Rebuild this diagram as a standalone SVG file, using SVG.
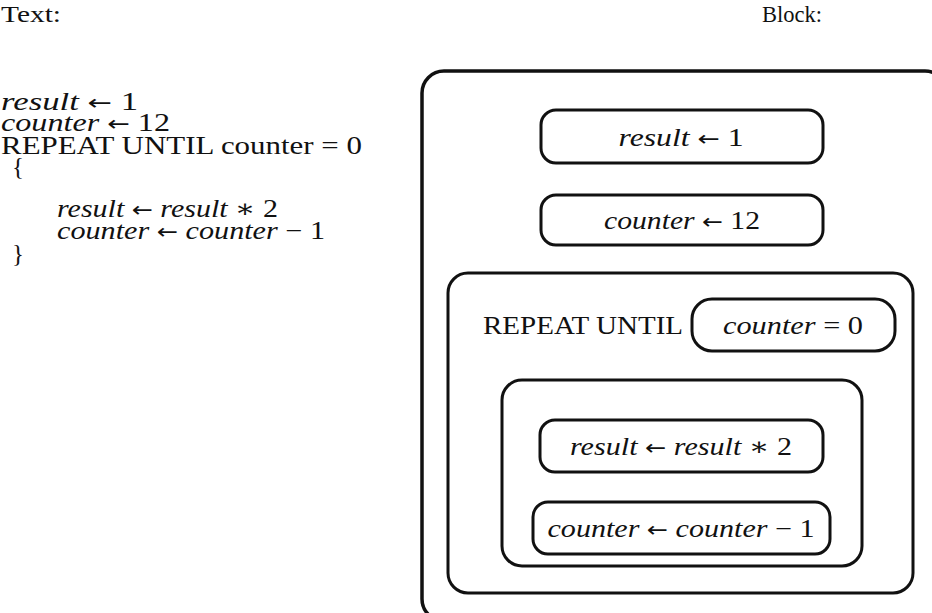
<svg xmlns="http://www.w3.org/2000/svg" width="932" height="613" viewBox="0 0 932 613">
<style>
text{font-family:"Liberation Serif","DejaVu Serif",serif;font-size:25px;fill:#111}
.i{font-style:italic}
.a{font-family:"DejaVu Sans",sans-serif;font-size:21px}
.h{font-size:24px}
.box{fill:none;stroke:#111;stroke-width:3}
.outer{fill:none;stroke:#111;stroke-width:3.5}
.c{text-anchor:middle}
</style>
<rect width="932" height="613" fill="#fff"/>
<g id="text-listing">
<text class="h" x="1" y="22" textLength="60" lengthAdjust="spacingAndGlyphs">Text:</text>
<text x="1" y="110" textLength="137" lengthAdjust="spacingAndGlyphs"><tspan class="i">result</tspan> <tspan class="a">←</tspan> 1</text>
<text x="1" y="131" textLength="169" lengthAdjust="spacingAndGlyphs"><tspan class="i">counter</tspan> <tspan class="a">←</tspan> 12</text>
<text x="1" y="154" textLength="361" lengthAdjust="spacingAndGlyphs">REPEAT UNTIL counter = 0</text>
<text x="12" y="175">{</text>
<text x="57" y="217" textLength="221" lengthAdjust="spacingAndGlyphs"><tspan class="i">result</tspan> <tspan class="a">←</tspan> <tspan class="i">result</tspan> ∗ 2</text>
<text x="57" y="239" textLength="268" lengthAdjust="spacingAndGlyphs"><tspan class="i">counter</tspan> <tspan class="a">←</tspan> <tspan class="i">counter</tspan> − 1</text>
<text x="12" y="262">}</text>
</g>
<text class="h" x="762" y="22" textLength="60" lengthAdjust="spacingAndGlyphs">Block:</text>
<g id="program">
<rect class="outer" x="422" y="71" width="525" height="550" rx="22"/>
</g>
<g id="stmt1">
<rect class="box" x="541" y="110" width="282" height="53" rx="15"/>
<text class="c" x="681" y="146" textLength="125" lengthAdjust="spacingAndGlyphs"><tspan class="i">result</tspan> <tspan class="a">←</tspan> 1</text>
</g>
<g id="stmt2">
<rect class="box" x="541" y="195" width="282" height="50" rx="15"/>
<text class="c" x="682" y="229" textLength="156" lengthAdjust="spacingAndGlyphs"><tspan class="i">counter</tspan> <tspan class="a">←</tspan> 12</text>
</g>
<g id="repeat">
<rect class="box" x="448" y="273" width="465" height="320" rx="20"/>
<text x="483" y="334" textLength="200" lengthAdjust="spacingAndGlyphs">REPEAT UNTIL</text>
</g>
<g id="condition">
<rect class="box" x="692" y="299" width="203" height="52" rx="20"/>
<text class="c" x="793" y="334" textLength="140" lengthAdjust="spacingAndGlyphs"><tspan class="i">counter</tspan> = 0</text>
</g>
<g id="body">
<rect class="box" x="502" y="380" width="360" height="186" rx="20"/>
</g>
<g id="stmt3">
<rect class="box" x="540" y="420" width="283" height="52" rx="15"/>
<text class="c" x="681" y="455" textLength="222" lengthAdjust="spacingAndGlyphs"><tspan class="i">result</tspan> <tspan class="a">←</tspan> <tspan class="i">result</tspan> ∗ 2</text>
</g>
<g id="stmt4">
<rect class="box" x="533" y="502" width="297" height="52" rx="15"/>
<text class="c" x="681" y="537" textLength="267" lengthAdjust="spacingAndGlyphs"><tspan class="i">counter</tspan> <tspan class="a">←</tspan> <tspan class="i">counter</tspan> − 1</text>
</g>
<g id="connectors"></g>
</svg>
